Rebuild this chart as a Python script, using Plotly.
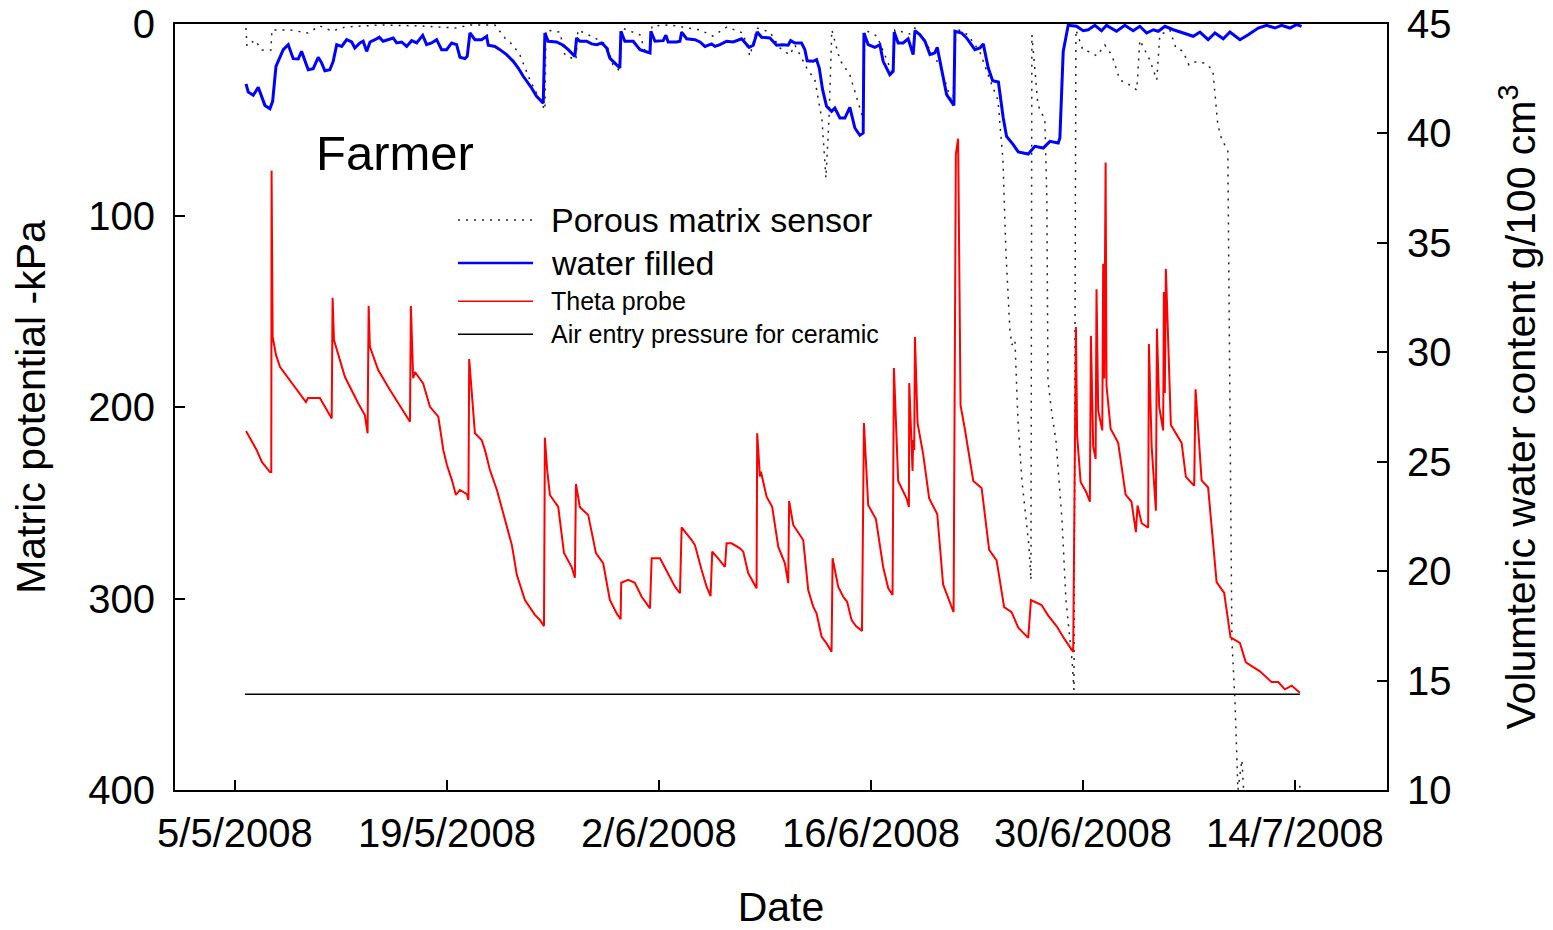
import pandas as pd
import plotly.graph_objects as go

BASE = pd.Timestamp("2008-05-05")

# porous matrix sensor, matric potential (-kPa), time in days after 5/5/2008
porous_day = [0.73, 0.79, 1.32, 1.78, 2.38, 2.44, 3.63, 4.49, 4.82, 5.61, 6.41, 7.26, 9.58, 12.22,
              14.59, 15.52, 17.17, 17.83, 18.36, 18.82, 19.48, 20.14, 20.47, 20.54, 21.46, 21.79,
              22.52, 22.65, 23.77, 24.57, 24.96, 25.42, 25.56, 26.75, 27.08, 27.41, 27.54, 28.73,
              30.71, 31.57, 32.49, 33.55, 34.01, 34.47, 35.33, 35.99, 36.65, 36.98, 37.77, 38.30,
              38.77, 39.03, 39.23, 39.42, 39.95, 40.61, 41.47, 41.60, 42.40, 42.92, 43.45, 43.58,
              44.57, 44.91, 45.57, 45.90, 46.56, 47.42, 47.61, 48.41, 49.20, 49.86, 50.39, 50.72,
              50.91, 51.18, 51.31, 51.51, 51.71, 51.97, 52.24, 52.43, 52.57, 52.63, 53.03, 53.49,
              53.62, 53.69, 53.96, 54.22, 54.62, 54.88, 55.28, 55.41, 55.54, 56.00, 56.46, 56.92,
              57.45, 57.91, 58.44, 59.10, 59.56, 59.76, 60.42, 60.88, 61.08, 61.74, 62.14, 62.60,
              63.00, 63.40, 64.06, 64.58, 64.91, 65.18, 65.57, 65.71, 65.84, 66.04, 66.24, 66.50,
              66.64, 67.03, 70.00, 70.33]
porous_kpa = [2.1, 11.5, 8.4, 13.6, 13.6, 3.1, 3.1, 4.2, 4.7, 1.0, 3.7, 1.6, 0.5, 1.0,
              2.1, 0.5, 0.5, 7.3, 11.0, 16.2, 29.2, 39.7, 44.9, 3.1, 4.2, 16.2,
              18.8, 3.1, 7.3, 11.0, 21.4, 24.5, 2.1, 5.7, 14.1, 15.1, 1.0, 0.5,
              3.1, 6.3, 1.6, 4.7, 16.7, 2.1, 4.2, 12.5, 16.2, 11.0, 23.0, 29.2,
              50.1, 80.4, 50.1, 3.1, 18.8, 26.6, 49.1, 3.1, 6.3, 16.2, 26.6, 3.1,
              5.2, 2.1, 8.4, 13.6, 21.9, 42.3, 2.1, 5.7, 14.6, 29.2, 39.7, 71.0,
              118.0, 159.8, 167.6, 165.0, 206.8, 238.1, 259.0, 272.1, 290.3, 5.7, 42.3, 50.1,
              91.9, 185.9, 204.2, 217.2, 259.0, 300.8, 332.1, 347.8, 3.1, 13.6, 14.6, 16.7,
              11.0, 16.2, 29.2, 31.9, 34.5, 8.4, 18.8, 29.2, 5.7, 3.1, 12.5, 14.1,
              21.4, 19.8, 20.4, 24.0, 52.7, 60.6, 65.8, 196.3, 321.7, 353.0, 400.0, 384.3,
              405.2, 457.5, 457.5, 397.4]

# water filled sensor, matric potential (-kPa)
water_day = [0.73, 0.88, 1.21, 1.54, 1.76, 1.98, 2.31, 2.49, 2.71, 2.97, 3.19, 3.52, 3.74, 3.85,
             4.18, 4.40, 4.84, 5.17, 5.50, 5.73, 5.94, 6.27, 6.49, 6.72, 7.05, 7.38, 7.71, 7.92,
             8.25, 8.47, 8.70, 8.92, 9.25, 9.53, 9.79, 10.12, 10.45, 10.68, 11.01, 11.34, 11.67,
             12.00, 12.40, 12.66, 12.99, 13.32, 13.65, 13.98, 14.31, 14.64, 14.86, 15.19, 15.34,
             15.52, 15.85, 16.29, 16.62, 16.73, 17.17, 17.50, 17.94, 18.38, 18.71, 19.04, 19.37,
             19.59, 19.92, 20.36, 20.47, 20.69, 21.24, 21.68, 22.01, 22.34, 22.45, 22.56, 22.78,
             23.22, 23.56, 23.89, 24.22, 24.55, 24.76, 25.09, 25.42, 25.49, 25.75, 26.30, 26.75,
             27.41, 27.47, 27.74, 28.28, 28.46, 28.61, 29.17, 29.39, 29.50, 29.83, 30.38, 30.71,
             31.04, 31.48, 31.70, 32.03, 32.47, 32.91, 33.46, 33.68, 33.96, 34.23, 34.49, 34.78,
             35.33, 35.77, 36.21, 36.54, 36.70, 36.98, 37.42, 37.64, 37.79, 38.19, 38.41, 38.59,
             38.81, 39.07, 39.40, 39.62, 39.95, 40.28, 40.61, 40.94, 41.27, 41.49, 41.54, 41.82,
             42.26, 42.59, 42.81, 43.25, 43.47, 43.54, 43.80, 44.13, 44.46, 44.79, 44.91, 45.24,
             45.57, 45.90, 46.22, 46.38, 46.67, 47.00, 47.48, 47.55, 47.99, 48.32, 48.87, 49.20,
             49.42, 49.75, 50.04, 50.42, 50.74, 50.96, 51.40, 51.73, 52.39, 52.83, 53.38, 53.82,
             54.37, 54.48, 54.70, 55.03, 55.58, 56.02, 56.35, 56.79, 57.23, 57.56, 58.22, 58.77,
             59.32, 59.76, 60.21, 60.65, 60.98, 61.42, 61.97, 62.63, 63.29, 63.73, 64.27, 64.72,
             65.27, 65.71, 66.37, 66.92, 67.58, 68.13, 68.68, 69.12, 69.67, 70.11, 70.44]
water_kpa = [31.3, 35.5, 37.2, 33.1, 37.8, 42.5, 44.2, 40.4, 22.1, 16.9, 13.4, 10.8, 16.0, 18.1,
             18.3, 14.3, 23.9, 23.3, 17.4, 20.4, 24.4, 23.9, 19.5, 10.8, 11.7, 8.2, 9.4, 12.5,
             9.9, 9.0, 14.3, 9.4, 8.2, 6.9, 9.0, 8.2, 7.3, 9.9, 9.4, 11.7, 8.7,
             9.9, 5.9, 10.8, 9.9, 8.2, 13.4, 13.4, 9.9, 10.8, 17.4, 18.1, 16.9,
             4.7, 8.2, 8.2, 6.4, 11.1, 11.7, 13.4, 16.0, 19.5, 23.0, 27.3, 30.8,
             33.4, 37.8, 41.3, 4.7, 9.0, 9.4, 11.1, 13.4, 15.7, 16.9, 7.3, 9.0,
             9.0, 10.4, 10.8, 9.9, 12.5, 17.8, 20.4, 23.0, 3.8, 9.0, 9.0, 13.4,
             15.1, 3.8, 9.0, 8.7, 5.9, 9.4, 9.4, 9.0, 4.2, 7.7, 8.2, 9.4,
             11.7, 10.4, 11.7, 10.8, 9.0, 9.4, 7.7, 9.9, 12.2, 11.1, 4.2, 6.9,
             7.3, 11.1, 10.8, 11.1, 8.7, 9.9, 9.9, 13.4, 19.2, 19.5, 18.6, 23.0,
             34.3, 43.0, 45.6, 43.9, 49.1, 49.1, 43.5, 54.3, 58.1, 56.9, 4.7, 10.8,
             12.2, 10.8, 19.5, 26.5, 24.7, 4.2, 9.9, 9.9, 7.7, 16.0, 3.5, 5.6,
             9.0, 16.0, 15.1, 12.2, 23.0, 36.9, 42.5, 3.8, 4.7, 7.3, 13.4, 12.5,
             10.4, 23.0, 29.6, 30.3, 49.1, 58.7, 63.0, 66.8, 67.9, 63.9, 64.8, 61.3,
             62.1, 59.5, 14.3, 0.7, 1.2, 3.5, 3.0, 0.7, 3.5, 0.7, 3.8, 0.7,
             3.5, 1.2, 4.7, 3.0, 3.8, 1.2, 3.0, 4.7, 6.4, 4.2, 8.2, 4.7,
             7.7, 4.2, 8.2, 5.6, 2.1, 0.7, 2.1, 0.7, 2.1, 0.3, 1.2]

# theta probe, volumetric water content (g/100 cm3)
theta_day = [0.73, 1.43, 1.78, 2.31, 2.40, 2.42, 2.49, 2.71, 2.97, 3.63, 4.40, 4.69, 4.82, 5.61,
             6.39, 6.45, 6.54, 7.26, 8.14, 8.58, 8.76, 8.83, 8.91, 9.46, 10.24, 11.11, 11.56,
             11.62, 11.77, 11.89, 12.43, 12.88, 13.43, 13.76, 14.00, 14.33, 14.59, 14.86, 15.32,
             15.42, 15.47, 15.85, 16.29, 16.51, 16.84, 17.30, 17.83, 18.29, 18.62, 19.15, 19.81,
             20.14, 20.41, 20.47, 20.62, 20.80, 21.35, 21.73, 22.23, 22.45, 22.52, 22.78, 23.33,
             23.84, 24.32, 24.76, 25.21, 25.47, 25.51, 25.97, 26.41, 26.86, 27.41, 27.52, 28.07,
             28.46, 29.06, 29.39, 29.50, 30.16, 30.38, 30.82, 31.15, 31.41, 31.52, 31.81, 32.36,
             32.47, 32.80, 33.35, 33.57, 33.90, 34.34, 34.45, 34.49, 34.67, 34.74, 35.11, 35.48,
             35.88, 36.32, 36.54, 36.60, 36.87, 37.31, 37.53, 37.86, 38.19, 38.41, 38.74, 39.07,
             39.40, 39.47, 39.84, 40.17, 40.43, 40.72, 41.01, 41.41, 41.54, 41.82, 42.33, 42.81,
             43.14, 43.43, 43.52, 43.80, 44.36, 44.51, 44.53, 44.75, 44.79, 44.86, 44.91, 45.08,
             45.45, 45.85, 46.38, 46.77, 47.22, 47.46, 47.61, 47.76, 47.92, 48.21, 48.76, 49.31,
             49.81, 50.30, 50.80, 51.29, 51.73, 52.39, 52.57, 53.27, 53.71, 54.26, 54.81, 55.36,
             55.54, 55.62, 55.85, 56.24, 56.46, 56.53, 56.68, 56.84, 56.90, 57.01, 57.28, 57.34,
             57.41, 57.50, 57.56, 57.83, 58.33, 58.82, 59.21, 59.50, 59.61, 59.88, 60.31, 60.36,
             60.54, 60.82, 60.89, 61.04, 61.30, 61.35, 61.41, 61.48, 61.81, 62.52, 62.80, 63.35,
             63.44, 63.84, 64.27, 64.83, 65.33, 65.75, 66.37, 66.76, 67.69, 68.46, 68.90, 69.34,
             69.79, 70.33]
theta_vwc = [26.40, 25.54, 24.99, 24.53, 24.53, 38.30, 30.71, 29.88, 29.34, 28.73, 27.97, 27.73, 27.91, 27.91,
             26.98, 32.49, 30.56, 28.88, 27.67, 27.13, 26.30, 32.12, 30.26, 29.19, 28.28, 27.36, 26.83,
             32.12, 28.81, 29.10, 28.58, 27.51, 27.06, 25.54, 24.85, 24.16, 23.48, 23.71, 23.52,
             23.25, 29.69, 26.30, 25.99, 25.54, 24.62, 23.71, 22.34, 21.19, 19.82, 18.68, 18.00,
             17.77, 17.49, 26.10, 24.62, 23.48, 22.94, 20.83, 20.20, 19.70, 23.98, 22.92, 22.57,
             20.82, 20.36, 18.68, 18.07, 17.80, 19.47, 19.60, 19.47, 18.83, 18.30, 20.59, 20.59,
             20.05, 19.29, 18.99, 22.00, 21.42, 21.19, 20.05, 19.29, 18.86, 20.89, 20.66, 20.20,
             21.27, 21.27, 21.04, 20.89, 19.90, 19.37, 19.22, 26.30, 24.32, 24.54, 23.40, 22.94,
             21.12, 20.36, 19.45, 23.21, 22.11, 21.65, 21.42, 19.14, 18.38, 18.07, 17.01, 16.70,
             16.32, 20.59, 19.29, 18.83, 18.60, 17.77, 17.49, 17.27, 26.77, 23.02, 22.38, 20.19,
             19.23, 18.91, 29.28, 24.12, 23.32, 22.93, 28.60, 24.58, 25.99, 25.54, 30.70, 26.77,
             25.35, 23.32, 22.61, 19.39, 18.60, 18.13, 39.06, 39.76, 27.57, 26.47, 24.12, 23.80,
             20.97, 20.49, 18.36, 18.13, 17.42, 16.95, 18.68, 18.45, 17.97, 17.49, 16.87, 16.31,
             31.16, 26.19, 24.07, 23.58, 23.17, 30.76, 25.70, 25.13, 32.88, 27.33, 26.43, 34.05,
             28.80, 38.67, 28.47, 26.51, 25.86, 23.50, 23.17, 21.78, 23.00, 22.19, 21.99, 30.38,
             25.70, 22.76, 31.08, 27.50, 26.43, 32.75, 28.14, 33.81, 26.68, 25.86, 24.31, 23.90,
             28.31, 24.15, 23.82, 19.50, 19.01, 16.97, 16.72, 15.83, 15.42, 14.93, 14.93, 14.60,
             14.77, 14.44]

# air entry pressure for ceramic (-kPa)
air_day = [0.66, 70.33]
air_kpa = [350, 350]

x_ticks = ["2008-05-05", "2008-05-19", "2008-06-02", "2008-06-16", "2008-06-30", "2008-07-14"]


def to_dates(days):
    return BASE + pd.to_timedelta(days, unit="D")


FONT = "Arial, Liberation Sans, sans-serif"
POROUS_LINE = dict(color="#222222", width=1.5, dash="2px,6px")

fig = go.Figure()
fig.add_trace(go.Scatter(x=to_dates(porous_day), y=porous_kpa, mode="lines",
                         line=POROUS_LINE, name="Porous matrix sensor"))
fig.add_trace(go.Scatter(x=to_dates(water_day), y=water_kpa, mode="lines",
                         line=dict(color="#0000ff", width=3), name="water filled"))
fig.add_trace(go.Scatter(x=to_dates(theta_day), y=theta_vwc, mode="lines", yaxis="y2",
                         line=dict(color="#ff0000", width=2), name="Theta probe"))
fig.add_trace(go.Scatter(x=to_dates(air_day), y=air_kpa, mode="lines",
                         line=dict(color="black", width=1.5),
                         name="Air entry pressure for ceramic"))

# legend drawn by hand: two entries use a bigger font than the other two
legend_rows = [
    ("Porous matrix sensor", 0.744, POROUS_LINE, 34),
    ("water filled", 0.688, dict(color="#0000ff", width=2.5), 34),
    ("Theta probe", 0.638, dict(color="#ff0000", width=1.5), 25),
    ("Air entry pressure for ceramic", 0.595, dict(color="black", width=1.5), 25),
]
for label, yy, ln, size in legend_rows:
    fig.add_shape(type="line", xref="paper", yref="paper", x0=0.2335, x1=0.2954,
                  y0=yy, y1=yy, line=ln)
    fig.add_annotation(xref="paper", yref="paper", x=0.3085, y=yy, text=label,
                       showarrow=False, xanchor="left", yanchor="middle",
                       font=dict(family=FONT, size=size, color="black"))

fig.add_annotation(xref="paper", yref="paper", x=0.115, y=0.832, text="Farmer",
                   showarrow=False, xanchor="left", yanchor="middle",
                   font=dict(family=FONT, size=49, color="black"))

axis_common = dict(ticks="inside", ticklen=10, tickwidth=2, tickcolor="black",
                   showline=True, linewidth=2, linecolor="black",
                   showgrid=False, zeroline=False, automargin=False,
                   ticklabeloverflow="allow", tickfont=dict(size=40))

fig.update_layout(
    width=1553, height=930,
    margin=dict(l=175, r=166, t=24, b=140),
    plot_bgcolor="white", paper_bgcolor="white",
    showlegend=False,
    font=dict(family=FONT, size=34, color="black"),
    xaxis=dict(
        range=["2008-05-01 01:00", "2008-07-20 02:00"],
        tickvals=x_ticks, tickformat="%-d/%-m/%Y", mirror=True,
        ticklabelstandoff=7,
        title=dict(text="Date", standoff=53),
        **axis_common,
    ),
    yaxis=dict(
        range=[400, 0], tickvals=[0, 100, 200, 300, 400],
        ticklabelstandoff=10,
        title=dict(text="Matric potential -kPa", standoff=30),
        **axis_common,
    ),
    yaxis2=dict(
        range=[10, 45], tickvals=[10, 15, 20, 25, 30, 35, 40, 45],
        overlaying="y", side="right",
        ticklabelstandoff=10,
        title=dict(text="Volumteric water content g/100 cm<sup>3</sup>", standoff=56),
        **axis_common,
    ),
)

# drop the default page margin so the figure fills the window exactly
fig.write_html("out.html", config={"displayModeBar": False},
               post_script="document.body.style.margin='0';document.body.style.overflow='hidden';")
